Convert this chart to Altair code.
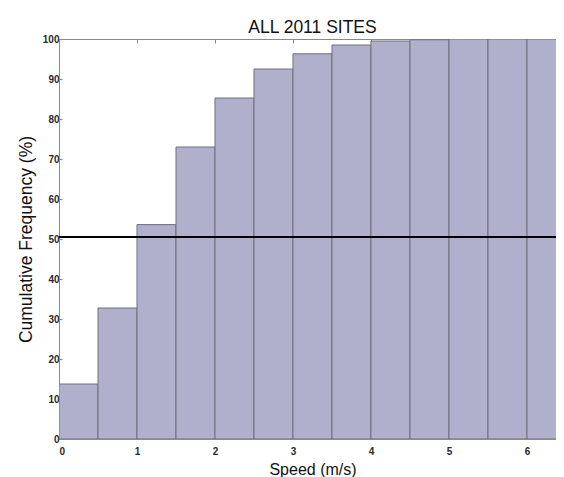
import altair as alt
import pandas as pd

# Data
bin_start = [0.0, 0.5, 1.0, 1.5, 2.0, 2.5, 3.0, 3.5, 4.0, 4.5, 5.0, 5.5, 6.0]
bin_end = [0.5, 1.0, 1.5, 2.0, 2.5, 3.0, 3.5, 4.0, 4.5, 5.0, 5.5, 6.0, 6.5]
cum_freq = [13.75, 32.75, 53.6, 73.0, 85.25, 92.5, 96.3, 98.5, 99.5, 99.8, 100.0, 100.0, 100.0]
median_level = [50.5]
x_ticks = [0, 1, 2, 3, 4, 5, 6]
y_ticks = [0, 10, 20, 30, 40, 50, 60, 70, 80, 90, 100]

df = pd.DataFrame({"start": bin_start, "end": bin_end, "cum": cum_freq})
df_line = pd.DataFrame({"level": median_level})

FONT = "Liberation Sans"
AXIS_GRAY = "#8a8a8a"
LABEL_COLOR = "#2a2a2a"

x_scale = alt.Scale(domain=[0, 6.372], nice=False, zero=False)
y_scale = alt.Scale(domain=[0, 100], nice=False)

y_axis = alt.Axis(values=y_ticks, title="Cumulative Frequency (%)",
                  grid=False, domainColor=AXIS_GRAY, tickColor=AXIS_GRAY,
                  tickSize={"expr": "-3"}, labelPadding=3,
                  labelFont=FONT, labelFontSize=10, labelFontWeight="bold",
                  labelColor=LABEL_COLOR,
                  titleFont=FONT, titleFontSize=17.5, titleFontWeight="normal",
                  titleColor="#111111", titleX=-28, titleBaseline="alphabetic")

bars = alt.Chart(df).mark_rect(
    fill="#b0b0cc", stroke="#6f6f80", strokeWidth=1, clip=True
).encode(
    x=alt.X("start:Q", scale=x_scale,
            axis=alt.Axis(orient="bottom", values=x_ticks, title="Speed (m/s)",
                          grid=False, domainColor=AXIS_GRAY, tickColor=AXIS_GRAY,
                          tickSize={"expr": "-4"}, labelPadding=11,
                          labelFont=FONT, labelFontSize=10, labelFontWeight="bold",
                          labelColor=LABEL_COLOR,
                          titleFont=FONT, titleFontSize=16, titleFontWeight="normal",
                          titleColor="#111111", titleX=253.5, titleY=35,
                          titleBaseline="alphabetic", titleAnchor="middle")),
    x2="end:Q",
    y=alt.Y("cum:Q", scale=y_scale, axis=y_axis),
    y2=alt.Y2(datum=0),
)

top_axis = alt.Chart(df).mark_rect(opacity=0, clip=True).encode(
    x=alt.X("start:Q", scale=x_scale,
            axis=alt.Axis(orient="top", values=x_ticks, labels=False, title=None,
                          grid=False, domainColor=AXIS_GRAY, tickColor=AXIS_GRAY,
                          tickSize={"expr": "-4"})),
    x2="end:Q",
    y=alt.Y("cum:Q", scale=y_scale, axis=y_axis),
    y2=alt.Y2(datum=0),
)

rule = alt.Chart(df_line).mark_rule(color="black", strokeWidth=2).encode(
    y=alt.Y("level:Q", scale=y_scale, axis=y_axis)
)

chart = alt.layer(bars, rule, top_axis).resolve_axis(x="independent").properties(
    width=497,
    height=400,
    title=alt.TitleParams("ALL 2011 SITES", font=FONT, fontSize=17.5,
                          fontWeight="normal", color="#111111",
                          baseline="alphabetic", offset=12, anchor="middle",
                          dx=5, dy=28),
    autosize=alt.AutoSizeParams(type="none"),
    padding={"left": 51, "top": 31, "right": 0, "bottom": 38},
).configure_view(stroke=None)

chart.save("out.html", embed_options={"renderer": "svg", "actions": False})
